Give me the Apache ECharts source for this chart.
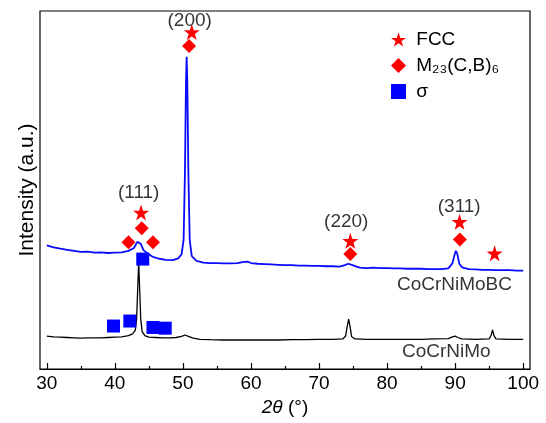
<!DOCTYPE html>
<html>
<head>
<meta charset="utf-8">
<script src="https://cdn.jsdelivr.net/npm/echarts@6/dist/echarts.min.js"></script>
<style>html,body{margin:0;padding:0;background:#fff}#c{width:546px;height:423px}</style>
</head>
<body>
<div id="c"></div>
<script>
// ---- data ----
const cocrnimobc = [[30,34.5],[31,34.0],[32,33.6],[33,33.3],[34,33.0],[35,32.7],[36,32.8],[37,32.5],[38,32.6],[39,32.4],[40,32.5],[41,32.6],[42,33.0],[42.8,33.8],[43.3,35.5],[43.5,35.9],[43.8,35.0],[44.2,33.2],[44.8,32.3],[45.5,31.4],[46.5,30.8],[47.5,30.5],[48.5,30.4],[49.3,30.9],[49.8,32.0],[50.1,36],[50.3,55],[50.45,80],[50.55,87.2],[50.65,80],[50.8,55],[51.0,36],[51.3,31.5],[52,30.2],[53,29.7],[54,29.6],[55,29.6],[56,29.5],[57,29.5],[58,29.6],[59,29.9],[59.5,30.0],[60,29.6],[61,29.4],[62,29.3],[63,29.2],[64,29.1],[65,29.0],[66,29.0],[67,28.9],[68,28.9],[69,28.8],[70,28.8],[71,28.7],[72,28.7],[73,28.6],[73.8,29.0],[74.3,29.4],[74.8,29.1],[75.5,28.6],[76,28.3],[77,28.2],[78,28.3],[79,28.2],[80,28.2],[81,28.1],[82,28.1],[83,28.0],[84,28.0],[85,28.0],[86,27.9],[87,27.9],[88,27.9],[89,28.1],[89.6,29.5],[89.9,31.8],[90.1,33.0],[90.3,32.3],[90.6,29.5],[91,28.4],[92,27.9],[93,27.8],[94,27.7],[95,27.7],[96,27.6],[97,27.6],[98,27.6],[99,27.5],[100,27.5]];
const cocrnimo = [[30,9.2],[31,9.0],[32,8.9],[33,8.8],[34,8.7],[35,8.6],[36,8.7],[37,8.7],[38,8.7],[39,8.8],[40,8.9],[41,9.0],[42,9.3],[42.6,9.8],[43.0,10.8],[43.2,14],[43.35,22],[43.5,29.9],[43.65,22],[43.8,14],[44.0,10.5],[44.4,9.3],[45,8.9],[46,8.8],[47,8.7],[48,8.7],[49,8.8],[49.8,9.1],[50.3,9.5],[50.8,9.1],[51.5,8.6],[52.5,8.3],[54,8.2],[56,8.1],[58,8.1],[60,8.1],[62,8.1],[64,8.1],[66,8.2],[68,8.2],[70,8.3],[72,8.3],[73.5,8.4],[73.9,9.2],[74.15,12],[74.35,13.9],[74.55,12],[74.8,9.0],[75.3,8.4],[77,8.3],[79,8.3],[81,8.3],[83,8.3],[85,8.3],[87,8.4],[89,8.5],[89.6,9.0],[90,9.2],[90.4,8.8],[91,8.4],[93,8.3],[95,8.4],[95.3,9.5],[95.5,10.9],[95.7,9.3],[96,8.4],[98,8.3],[100,8.3]];
const fccMarks = [[51.3,94.1],[43.85,43.7],[74.6,35.8],[90.65,41.1],[95.8,32.3]];
const m23Marks = [[50.9,90.2],[43.95,39.3],[42.0,35.4],[45.6,35.4],[74.6,32.1],[90.7,36.2]];
const sigmaMarks = [[44.1,30.7],[39.8,12.0],[42.2,13.4],[45.6,11.6],[47.4,11.4]];
const peakLabels = ['(200)','(111)','(220)','(311)'];
const peakLabelPos = [[51.0,97.3],[43.5,49.1],[74.0,41.1],[90.6,45.2]];
const sampleLabels = ['CoCrNiMoBC','CoCrNiMo'];
const sampleLabelPos = [[89.9,23.5],[88.7,4.7]];
const majorTicks = [30,40,50,60,70,80,90,100];
const minorTicks = [35,45,55,65,75,85,95];
const seriesNames = ['FCC','M₂₃(C,B)₆','σ'];

const FONT = 'Liberation Sans, Arial, sans-serif';
const FS = 19;
const star = 'path://M50,0 L61.8,35.1 L98.1,35.1 L68.8,56.7 L79.4,91.0 L50,70 L20.6,91.0 L31.2,56.7 L1.9,35.1 L38.2,35.1 Z';

const chart = echarts.init(document.getElementById('c'), null, {renderer:'canvas'});
const xCommon = {type:'value', min:29, max:101, splitLine:{show:false}};
chart.setOption({
  animation:false,
  grid:{left:40, right:16, top:11, bottom:54, show:true, borderColor:'#000', borderWidth:1.2, backgroundColor:'transparent'},
  legend:{
    data:seriesNames, orient:'vertical', left:386, top:25, itemWidth:15, itemHeight:15, itemGap:7,
    textStyle:{fontFamily:FONT, fontSize:FS, color:'#000', lineHeight:15},
    formatter:function(n){ return ' ' + n; }
  },
  xAxis:[
    Object.assign({}, xCommon, {
      position:'bottom',
      axisLine:{show:true, onZero:false, lineStyle:{color:'#000', width:1.2}},
      axisTick:{show:true, inside:true, length:6, customValues:majorTicks, lineStyle:{color:'#000', width:1.2}},
      axisLabel:{show:true, customValues:majorTicks, margin:5, fontFamily:FONT, fontSize:FS, color:'#000'},
      name:'{i|2θ} (°)', nameLocation:'middle', nameGap:27,
      nameTextStyle:{fontFamily:FONT, fontSize:FS, color:'#000', rich:{i:{fontStyle:'italic', fontFamily:FONT, fontSize:FS}}}
    }),
    Object.assign({}, xCommon, {
      position:'bottom',
      axisLine:{show:false},
      axisTick:{show:true, inside:true, length:3, customValues:minorTicks, lineStyle:{color:'#000', width:1.2}},
      axisLabel:{show:false}
    })
  ],
  yAxis:{type:'value', min:0, max:100, axisLine:{show:false}, axisTick:{show:false}, axisLabel:{show:false}, splitLine:{show:false},
    name:'Intensity (a.u.)', nameLocation:'middle', nameGap:2,
    nameTextStyle:{fontFamily:FONT, fontSize:21, color:'#000'}},
  series:[
    {type:'line', name:'CoCrNiMo', data:cocrnimo, showSymbol:false, lineStyle:{color:'#000', width:1.3}, z:2},
    {type:'line', name:'CoCrNiMoBC', data:cocrnimobc, showSymbol:false, lineStyle:{color:'#0a0aff', width:1.8}, z:2},
    {type:'scatter', name:seriesNames[0], data:fccMarks, symbol:star, symbolSize:16, itemStyle:{color:'#ff0000', opacity:1}, z:5},
    {type:'scatter', name:seriesNames[1], data:m23Marks, symbol:'diamond', symbolSize:14, itemStyle:{color:'#ff0000', opacity:1}, z:5},
    {type:'scatter', name:seriesNames[2], data:sigmaMarks, symbol:'rect', symbolSize:13, itemStyle:{color:'#0000ff', opacity:1}, z:5},
    {type:'scatter', name:'peaks', data:peakLabels.map((t,i)=>({name:t, value:peakLabelPos[i]})), symbolSize:0, silent:true,
      label:{show:true, position:'inside', formatter:'{b}', fontFamily:FONT, fontSize:FS, color:'#000'}, z:6},
    {type:'scatter', name:'samples', data:sampleLabels.map((t,i)=>({name:t, value:sampleLabelPos[i]})), symbolSize:0, silent:true,
      label:{show:true, position:'inside', formatter:'{b}', fontFamily:FONT, fontSize:FS, color:'#000'}, z:6}
  ]
});
</script>
</body>
</html>
